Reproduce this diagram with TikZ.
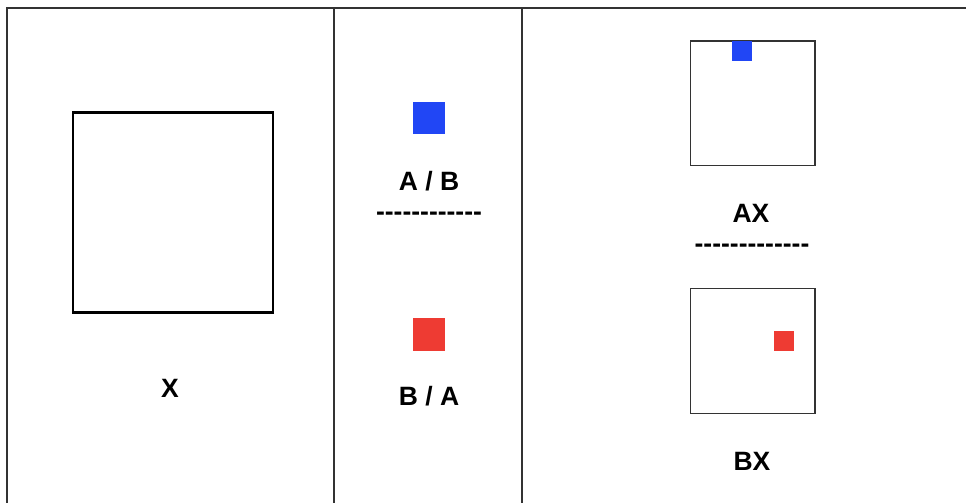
\documentclass[tikz,border=0pt]{standalone}
\usepackage{fontspec}
\setmainfont[Ligatures=TeXOff]{Liberation Sans}
\definecolor{sqblue}{HTML}{2146F5}
\definecolor{sqred}{HTML}{EE3B33}
\definecolor{rule}{HTML}{333333}
\begin{document}
\begin{tikzpicture}[x=1pt,y=-1pt,
  border/.style={draw=rule,line width=1.5pt},
  bigbox/.style={draw=black,line width=2.6pt,minimum size=200pt,inner sep=0pt,outer sep=0pt},
  smallbox/.style={draw=rule,line width=1.4pt,minimum size=124.5pt,inner sep=0pt,outer sep=0pt},
  chip/.style={inner sep=0pt,outer sep=0pt,minimum size=#1},
  lbl/.style={anchor=base,inner sep=0pt,font=\fontsize{26.5}{30}\selectfont\bfseries},
  dashes/.style={anchor=base,inner sep=0pt,font=\fontsize{26.5}{30}\selectfont\bfseries}]
\useasboundingbox (0,0) rectangle (966,503);
% frame
\coordinate (tl) at (7,8);
\coordinate (tr) at (966,8);
\coordinate (bl) at (7,503);
\coordinate (d1t) at (334,8);
\coordinate (d1b) at (334,503);
\coordinate (d2t) at (522,8);
\coordinate (d2b) at (522,503);
\draw[border] (bl) -- (tl) -- (tr);
\draw[border] (d1t) -- (d1b);
\draw[border] (d2t) -- (d2b);
% column 1
\node[bigbox] (X) at (172.8,212.2) {};
\node[lbl] (Xl) at (170,397.5) {X};
% column 2
\node[chip=32.6pt,fill=sqblue] (blue) at (429,118) {};
\node[lbl] (ab) at (429,190) {A / B};
\node[dashes] (dash1) at (429,220) {------------};
\node[chip=32.6pt,fill=sqred] (red) at (429,334.7) {};
\node[lbl] (ba) at (429,405) {B / A};
% column 3
\node[smallbox] (AXbox) at (752.8,103.2) {};
\node[chip=20pt,fill=sqblue] (blues) at (742.3,51.2) {};
\node[lbl] (AX) at (751,222) {AX};
\node[dashes] (dash2) at (752,252.5) {-------------};
\node[smallbox] (BXbox) at (752.8,351) {};
\node[chip=20.6pt,fill=sqred] (reds) at (783.8,341) {};
\node[lbl] (BX) at (752,470) {BX};
\end{tikzpicture}
\end{document}
